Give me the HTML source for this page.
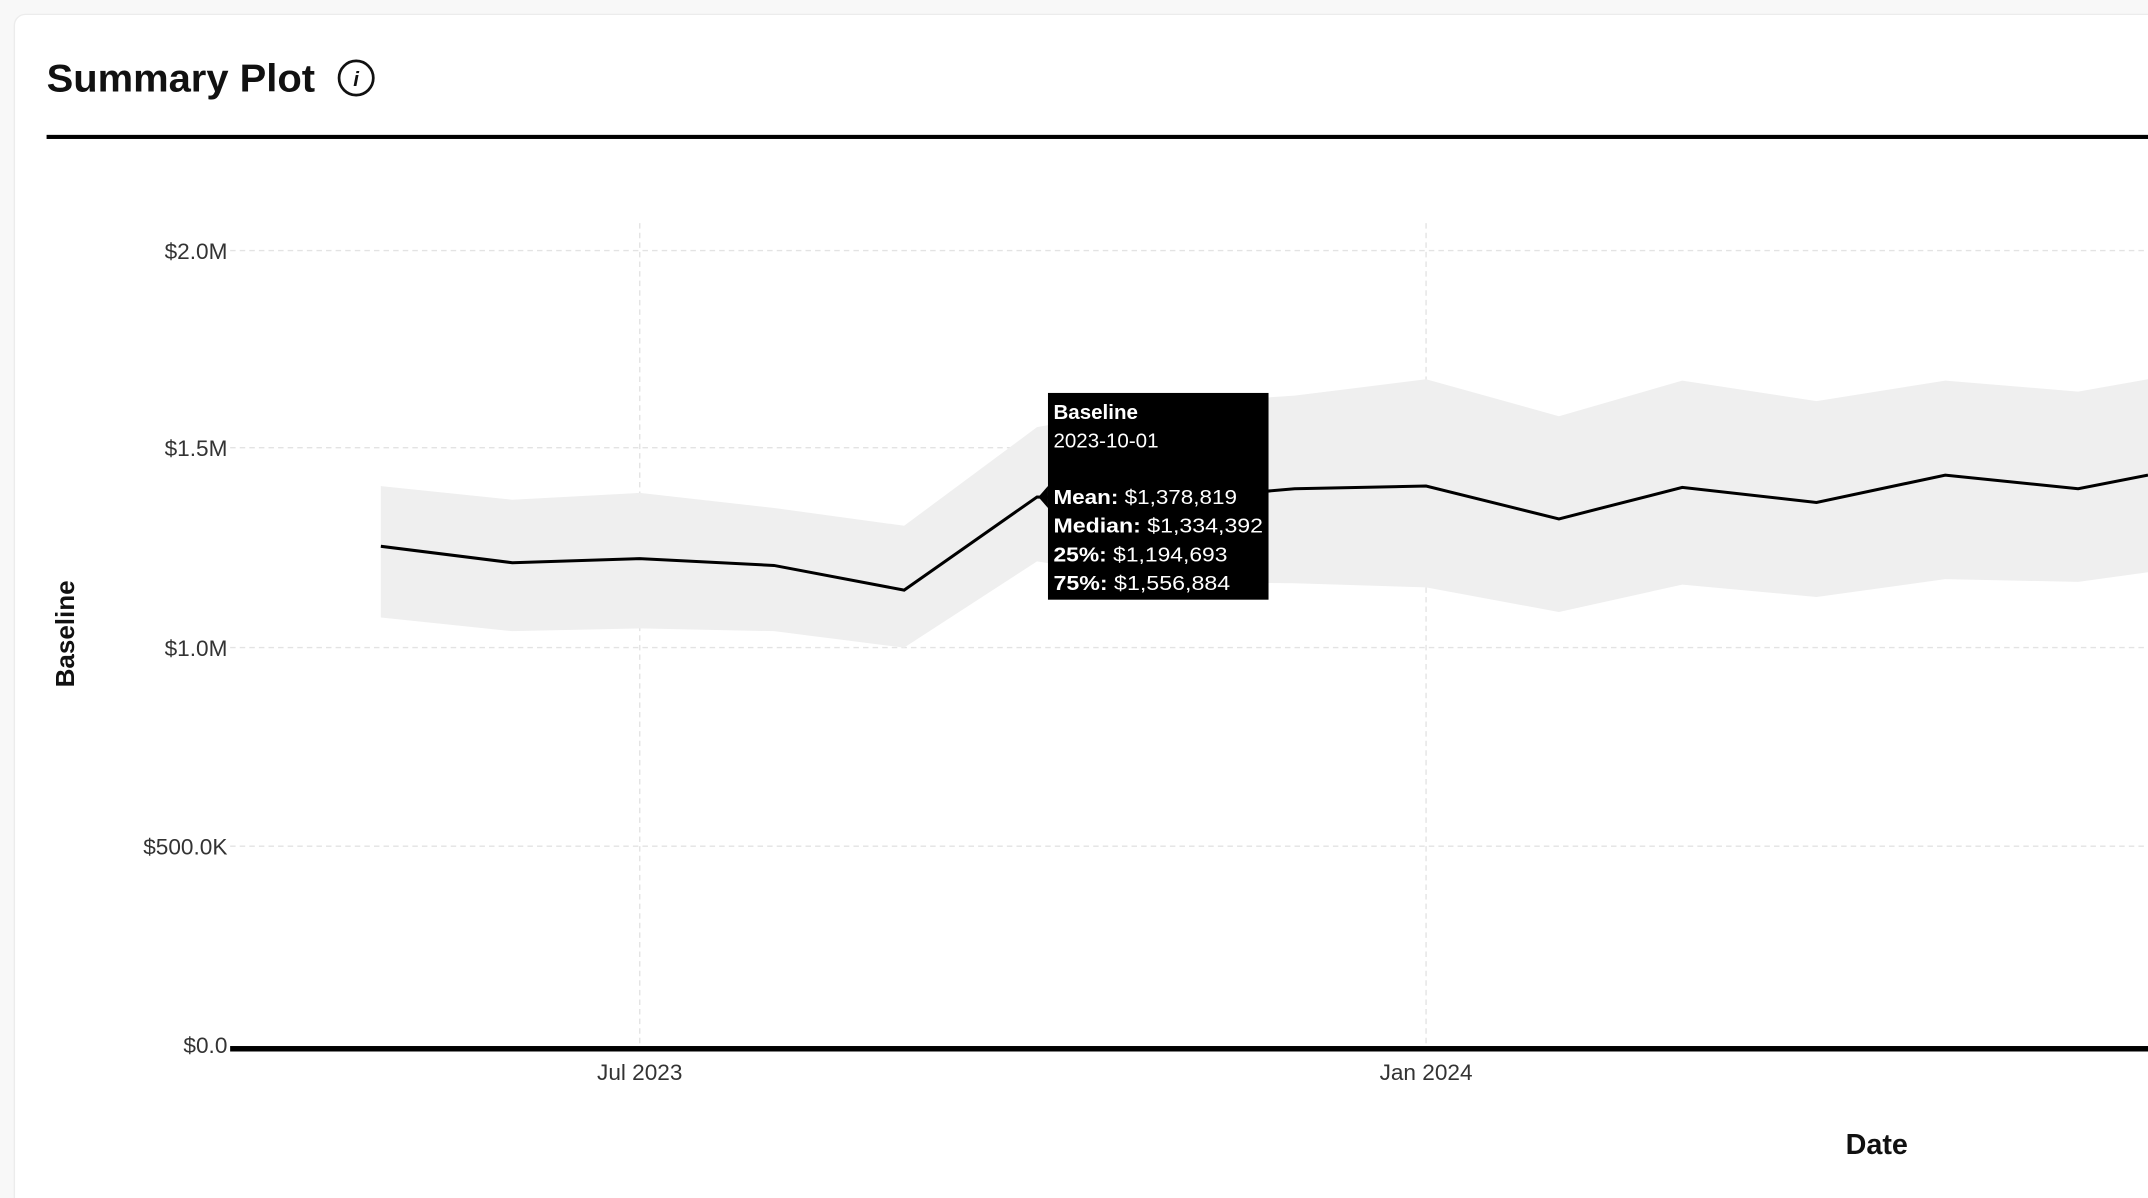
<!DOCTYPE html>
<html><head><meta charset="utf-8"><style>
html,body{margin:0;padding:0;background:#f8f8f8;}
svg{display:block;font-family:"Liberation Sans",sans-serif;}
</style></head><body>
<svg width="2148" height="1198" viewBox="0 0 1568 875" preserveAspectRatio="none" xmlns="http://www.w3.org/2000/svg">
<rect x="0" y="0" width="1568" height="875" fill="#f8f8f8"/>
<rect x="10.5" y="10.5" width="1580" height="900" rx="8" fill="#fff" stroke="#ececec"/>
<text x="34" y="67" font-size="28.5" font-weight="bold" fill="#111" textLength="196" lengthAdjust="spacingAndGlyphs">Summary Plot</text>
<circle cx="260" cy="57" r="12.5" fill="none" stroke="#111" stroke-width="2"/>
<text x="260" y="63" font-size="15" font-style="italic" font-weight="bold" text-anchor="middle" fill="#111">i</text>
<rect x="34" y="98.5" width="1540" height="3" fill="#000"/>
<g stroke="#e3e3e3" stroke-width="1" stroke-dasharray="4,3">
<line x1="168" y1="183" x2="1568" y2="183"/>
<line x1="168" y1="327" x2="1568" y2="327"/>
<line x1="168" y1="473" x2="1568" y2="473"/>
<line x1="168" y1="618" x2="1568" y2="618"/>
<line x1="467" y1="163" x2="467" y2="764"/>
<line x1="1041" y1="163" x2="1041" y2="764"/>
</g>
<g font-size="16.5" fill="#333" text-anchor="end">
<text x="166" y="189">$2.0M</text>
<text x="166" y="333">$1.5M</text>
<text x="166" y="479">$1.0M</text>
<text x="166" y="624">$500.0K</text>
<text x="166" y="769">$0.0</text>
</g>
<g font-size="16.5" fill="#333" text-anchor="middle">
<text x="467" y="789">Jul 2023</text>
<text x="1041" y="789">Jan 2024</text>
</g>
<text x="1370" y="843" font-size="21" font-weight="bold" fill="#111" text-anchor="middle">Date</text>
<text transform="translate(54,463) rotate(-90)" font-size="19" font-weight="bold" fill="#111" text-anchor="middle">Baseline</text>
<polygon fill="#efefef" points="278,355 374,365 467,360 565,371 660,384 757,312 852,295 945,289 1041,277 1138,304 1228,278 1326,293 1420,278 1517,286 1568,277 1568,418 1517,425 1420,423 1326,436 1228,427 1138,447 1041,429 945,426 852,425 757,410 660,473 565,461 467,459 374,461 278,451"/>
<polyline fill="none" stroke="#000" stroke-width="2.2" points="278,399 374,411 467,408 565,413 660,431 757,363 852,365 945,357 1041,355 1138,379 1228,356 1326,367 1420,347 1517,357 1568,347"/>
<rect x="168" y="764" width="1400" height="4" fill="#000"/>
<rect x="765" y="287" width="161" height="151" fill="#000"/>
<polygon points="765,355 758,363 765,371" fill="#000"/>
<g font-size="15" fill="#fff">
<text x="769" y="306" font-weight="bold">Baseline</text>
<text x="769" y="327">2023-10-01</text>
<text x="769" y="368" textLength="134" lengthAdjust="spacingAndGlyphs"><tspan font-weight="bold">Mean:</tspan> $1,378,819</text>
<text x="769" y="389" textLength="153" lengthAdjust="spacingAndGlyphs"><tspan font-weight="bold">Median:</tspan> $1,334,392</text>
<text x="769" y="410" textLength="127" lengthAdjust="spacingAndGlyphs"><tspan font-weight="bold">25%:</tspan> $1,194,693</text>
<text x="769" y="431" textLength="129" lengthAdjust="spacingAndGlyphs"><tspan font-weight="bold">75%:</tspan> $1,556,884</text>
</g>
</svg>
</body></html>
